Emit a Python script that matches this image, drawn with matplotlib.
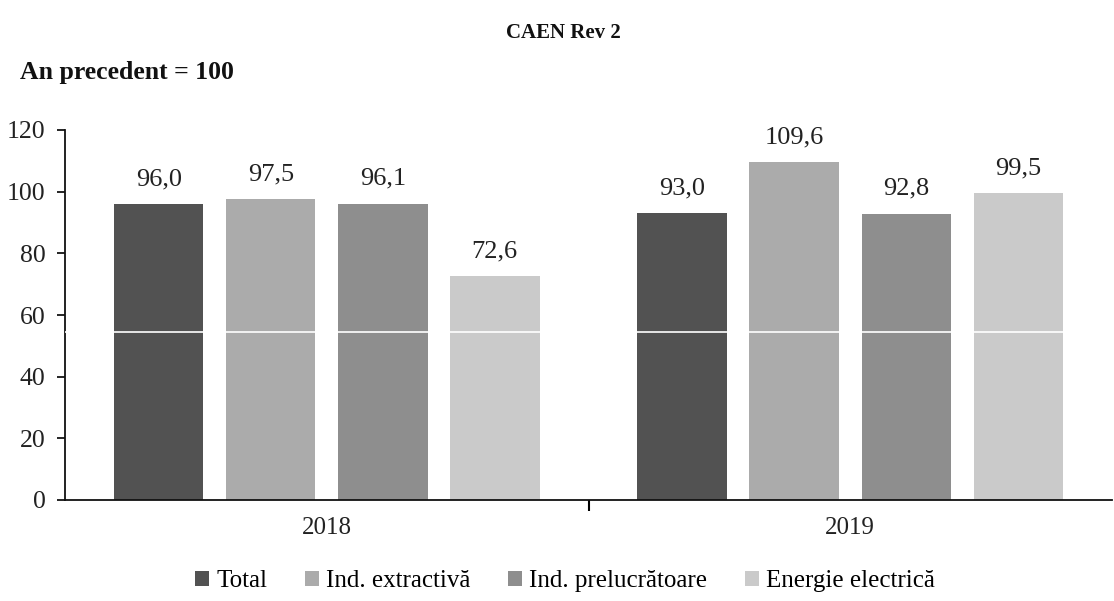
import matplotlib
matplotlib.use("Agg")
import matplotlib.pyplot as plt
import numpy as np

years = ["2018", "2019"]
series = ["Total", "Ind. extractivă", "Ind. prelucrătoare", "Energie electrică"]
values = {
    "Total": [96.0, 93.0],
    "Ind. extractivă": [97.5, 109.6],
    "Ind. prelucrătoare": [96.1, 92.8],
    "Energie electrică": [72.6, 99.5],
}
colors = ["#525252", "#ababab", "#8e8e8e", "#cacaca"]
yticks = [0, 20, 40, 60, 80, 100, 120]

plt.rcParams['font.family'] = ['Liberation Serif', 'DejaVu Serif']

fig = plt.figure(figsize=(11.14, 6.01), dpi=100)
ax = fig.add_axes([65/1114, 1-500/601, (1112-65)/1114, (500-130)/601])

x = np.arange(len(years))
pitch = 0.214
width = 0.171
for i, s in enumerate(series):
    pos = x + (i - 1.5) * pitch
    bars = ax.bar(pos, values[s], width=width, color=colors[i], label=s, zorder=2)
    for b, v in zip(bars, values[s]):
        ax.annotate(f"{v:.1f}".replace(".", ","),
                    (b.get_x() + b.get_width()/2, v),
                    xytext=(0, 18), textcoords="offset points",
                    ha="center", va="center", fontsize=19, color="#222222")

ax.axhline(54.5, color="white", lw=1.2, zorder=3)

ax.set_xlim(-0.5, 1.5)
ax.set_ylim(0, 120)
ax.set_yticks(yticks)
ax.set_yticklabels([str(t) for t in yticks], fontsize=18.5, color="#222222")
ax.tick_params(axis="y", direction="out", length=6, width=1.2, pad=8)

ax.set_xticks(x)
ax.set_xticklabels(years, fontsize=18, color="#222222")
ax.tick_params(axis="x", length=0, pad=12)
ax.set_xticks([0.5], minor=True)
ax.tick_params(axis="x", which="minor", direction="out", length=8, width=1.5)

for sp in ["top", "right"]:
    ax.spines[sp].set_visible(False)
ax.spines["left"].set_linewidth(1.3)
ax.spines["bottom"].set_linewidth(1.3)
ax.spines["left"].set_color("#111111")
ax.spines["bottom"].set_color("#111111")

fig.text(563/1114, 1-33/601, "CAEN Rev 2", ha="center", va="center",
         fontsize=15, fontweight="bold", color="#111111")
fig.text(20/1114, 1-72/601, "An precedent = 100", ha="left", va="center",
         fontsize=18.5, fontweight="bold", color="#111111")

fig.legend(loc="center", bbox_to_anchor=(565/1114, 1-581/601), ncol=4,
           frameon=False, fontsize=18, handlelength=0.55, handleheight=0.55,
           handletextpad=0.3, columnspacing=1.5)

fig.savefig("out.png", dpi=100, facecolor="white")
